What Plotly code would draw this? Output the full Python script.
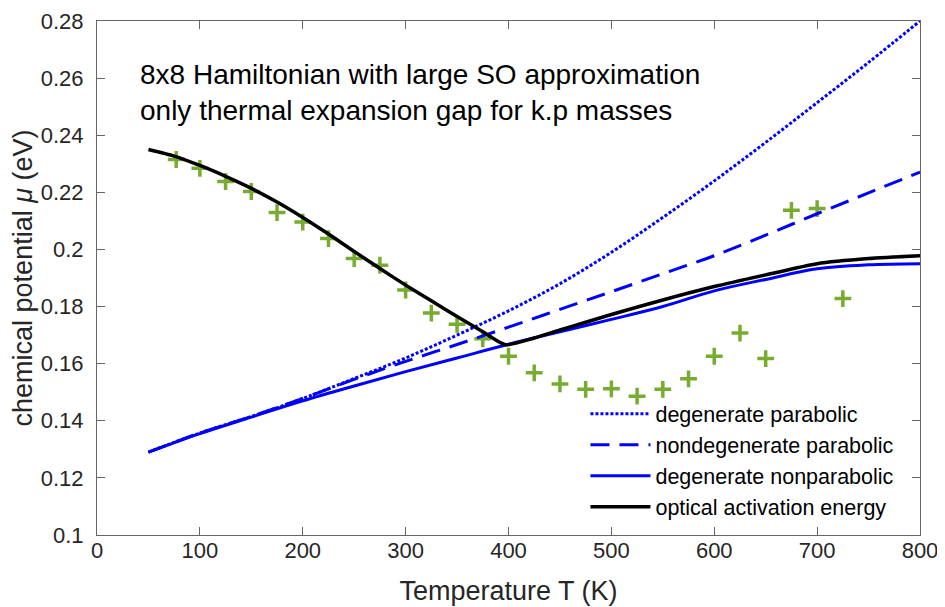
import plotly.graph_objects as go

# ---- data ----
T_par = [50, 100, 150, 200, 250, 300, 350, 400, 450, 500, 550, 600, 650, 700, 750, 800]
mu_deg_parabolic = [0.1290, 0.1357, 0.1415, 0.1478, 0.1548, 0.1620, 0.1700, 0.1785,
                    0.1880, 0.1990, 0.2112, 0.2240, 0.2375, 0.2514, 0.2655, 0.2800]
mu_nondeg_parabolic = [0.1290, 0.1357, 0.1415, 0.1478, 0.1545, 0.1608, 0.1667, 0.1728,
                       0.1790, 0.1852, 0.1915, 0.1978, 0.2050, 0.2125, 0.2198, 0.2271]
mu_deg_nonparabolic = [0.1290, 0.1355, 0.1413, 0.1470, 0.1522, 0.1572, 0.1620, 0.1668,
                       0.1712, 0.1755, 0.1800, 0.1855, 0.1895, 0.1932, 0.1946, 0.1950]

T_opt = [50, 75, 100, 125, 150, 175, 200, 225, 250, 275, 300, 325, 350, 375, 390, 398,
         425, 450, 475, 500, 550, 600, 650, 700, 750, 800]
mu_optical = [0.2350, 0.2327, 0.2294, 0.2256, 0.2214, 0.2166, 0.2112, 0.2054, 0.1993,
              0.1933, 0.1875, 0.1820, 0.1765, 0.1712, 0.1678, 0.1666, 0.1690, 0.1718,
              0.1745, 0.1772, 0.1823, 0.1870, 0.1911, 0.1950, 0.1968, 0.1978]

T_exp = [77, 100, 125, 150, 175, 200, 225, 250, 275, 300, 325, 350, 375, 400, 425, 450,
         475, 500, 525, 550, 575, 600, 625, 650, 675, 700, 725]
mu_exp = [0.2315, 0.2284, 0.2238, 0.2203, 0.2129, 0.2096, 0.2038, 0.1968, 0.1945, 0.1858,
          0.1777, 0.1738, 0.1687, 0.1626, 0.1568, 0.1529, 0.1510, 0.1512, 0.1486, 0.1510,
          0.1547, 0.1626, 0.1707, 0.1618, 0.2137, 0.2143, 0.1828]

x_ticks = [0, 100, 200, 300, 400, 500, 600, 700, 800]
y_ticks = [0.1, 0.12, 0.14, 0.16, 0.18, 0.2, 0.22, 0.24, 0.26, 0.28]
y_ticklabels = ["0.1", "0.12", "0.14", "0.16", "0.18", "0.2", "0.22", "0.24", "0.26", "0.28"]

names = ["degenerate parabolic", "nondegenerate parabolic",
         "degenerate nonparabolic", "optical activation energy"]
annot_lines = ["8x8 Hamiltonian with large SO approximation",
               "only thermal expansion gap for k.p masses"]

FONT = "Arial, Liberation Sans, Helvetica, sans-serif"
BLUE = "#0000FF"
GREEN = "#77AC30"

fig = go.Figure()
fig.add_trace(go.Scatter(x=T_exp, y=mu_exp, mode="markers", showlegend=False,
                         marker=dict(symbol="cross-thin", size=12, color=GREEN,
                                     line=dict(color=GREEN, width=3.5))))
fig.add_trace(go.Scatter(x=T_par, y=mu_deg_parabolic, mode="lines", name=names[0],
                         line=dict(color=BLUE, width=3, dash="3px,2px", shape="spline")))
fig.add_trace(go.Scatter(x=T_par, y=mu_nondeg_parabolic, mode="lines", name=names[1],
                         line=dict(color=BLUE, width=3, dash="19px,10px", shape="spline")))
fig.add_trace(go.Scatter(x=T_par, y=mu_deg_nonparabolic, mode="lines", name=names[2],
                         line=dict(color=BLUE, width=3, shape="spline")))
fig.add_trace(go.Scatter(x=T_opt, y=mu_optical, mode="lines", name=names[3],
                         line=dict(color="black", width=3.5, shape="spline", smoothing=0.6)))

axis_common = dict(showline=True, linecolor="#666666", linewidth=1, mirror="allticks",
                   ticks="inside", ticklen=8, tickcolor="#666666", showgrid=False,
                   zeroline=False, automargin=False, ticklabeloverflow="allow",
                   tickfont=dict(family=FONT, size=22, color="#262626"))

fig.update_xaxes(range=[0, 800], tickvals=x_ticks, ticklabelstandoff=-4,
                 title=dict(text="Temperature T (K)", font=dict(family=FONT, size=27,
                                                                   color="#262626"),
                            standoff=18),
                 **axis_common)
fig.update_yaxes(range=[0.1, 0.28], tickvals=y_ticks, ticktext=y_ticklabels,
                 ticklabelstandoff=8,
                 title=dict(text="chemical potential <i>μ</i> (eV)",
                            font=dict(family=FONT, size=27, color="#262626"),
                            standoff=4),
                 **axis_common)

fig.add_annotation(x=40, y=0.2612, xref="x", yref="y", text=annot_lines[0],
                   showarrow=False, xanchor="left", yanchor="middle",
                   font=dict(family=FONT, size=28, color="black"))
fig.add_annotation(x=40, y=0.2487, xref="x", yref="y", text=annot_lines[1],
                   showarrow=False, xanchor="left", yanchor="middle",
                   font=dict(family=FONT, size=28, color="black"))

# page body has an 8px margin, so the figure is sized to fit inside the window
fig.update_layout(
    width=937, height=599,
    margin=dict(l=89, r=25, t=13, b=72),
    paper_bgcolor="white", plot_bgcolor="white",
    font=dict(family=FONT, color="#262626"),
    legend=dict(x=0.5935, y=0.2755, xanchor="left", yanchor="top",
                bgcolor="rgba(0,0,0,0)", borderwidth=0, itemwidth=60,
                tracegroupgap=0, font=dict(family=FONT, size=21.5, color="black")),
)

fig.write_html("out.html")
